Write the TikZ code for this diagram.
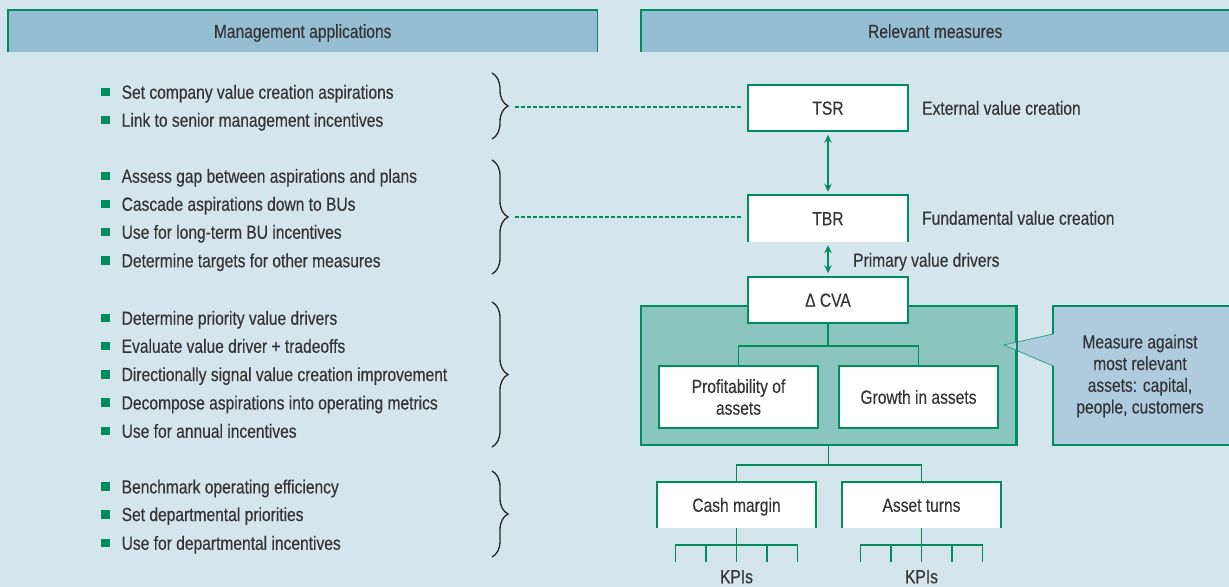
\documentclass[tikz,border=0pt]{standalone}
\usepackage{fontspec}
\setmainfont{Liberation Sans}[FakeStretch=0.82,FakeBold=0.3]
\usetikzlibrary{arrows.meta,decorations.pathreplacing}
\definecolor{bg}{RGB}{213,229,237}
\definecolor{hdr}{RGB}{149,190,210}
\definecolor{grn}{RGB}{0,140,92}
\definecolor{tealfill}{RGB}{139,197,192}
\definecolor{callfill}{RGB}{174,204,222}
\definecolor{ink}{RGB}{52,52,52}

\begin{document}
\begin{tikzpicture}[x=1bp,y=-1bp,
  every node/.style={font=\fontsize{19bp}{21.7bp}\selectfont, text=ink},
  txt/.style={inner sep=0pt, text height=13.5bp, text depth=0bp},
  item/.style={txt, anchor=west},
  bullet/.style={fill=grn, minimum size=8.5bp, inner sep=0pt},
  wbox/.style={fill=white, inner sep=0pt, text height=13.5bp, text depth=0bp},
  mbox/.style={fill=white, inner sep=0pt, align=center},
  edge/.style={draw=grn, line width=1.6bp},
  link/.style={draw=grn, line width=1.6bp},
  dbl/.style={draw=grn, line width=2bp, {Stealth[length=8bp,width=7.5bp]}-{Stealth[length=8bp,width=7.5bp]}, shorten <=3bp, shorten >=3bp},
  dotline/.style={draw=grn, line width=2bp, dash pattern=on 3.5bp off 2.5bp},
  curly/.style={draw=black!85, line width=1.3bp, decorate, decoration={brace, mirror, amplitude=16bp}},
]
\useasboundingbox (0,0) rectangle (1229,587);
\fill[bg] (0,0) rectangle (1229,587);

% column headers
\node[fill=hdr, txt, minimum width=589bp, minimum height=42bp, anchor=north west] (hl) at (8,10) {Management applications};
\draw[edge] (hl.south west) -- (hl.north west) -- (hl.north east) -- (hl.south east);
\node[fill=hdr, txt, minimum width=588bp, minimum height=42bp, anchor=north west] (hr) at (641,10) {Relevant measures};
\draw[edge] (hr.south west) -- (hr.north west) -- (hr.north east);

% bullet lists
\foreach \y/\t [count=\i] in {
  92/Set company value creation aspirations,
  120/Link to senior management incentives,
  176/Assess gap between aspirations and plans,
  204/Cascade aspirations down to BUs,
  232/Use for long-term BU incentives,
  260.5/Determine targets for other measures,
  318/Determine priority value drivers,
  346/Evaluate value driver + tradeoffs,
  374.3/Directionally signal value creation improvement,
  402.7/Decompose aspirations into operating metrics,
  431/Use for annual incentives,
  486.7/Benchmark operating efficiency,
  514.3/Set departmental priorities,
  543/Use for departmental incentives}{
  \node[bullet] (bul\i) at (105.5,\y) {};
  \node[item] (item\i) at (121.5,\y) {\t};
}

% braces grouping the lists
\draw[curly] (492,139) -- (492,73);
\draw[curly] (492,274) -- (492,160);
\draw[curly] (492,447) -- (492,302);
\draw[curly] (492,557) -- (492,471);

% measures column
\node[wbox, draw=grn, line width=1.6bp, minimum width=160bp, minimum height=46bp] (tsr) at (828,108) {TSR};
\node[wbox, minimum width=160bp, minimum height=47bp] (tbr) at (828,218.5) {TBR};
\draw[edge] (tbr.south west) -- (tbr.north west) -- (tbr.north east) -- (tbr.south east);
\node[item] (ext) at (922,108) {External value creation};
\node[item] (fund) at (922,218) {Fundamental value creation};
\node[item] (prim) at (853,260) {Primary value drivers};

% dotted links from braces
\coordinate (tip1) at (515,107);
\coordinate (tip2) at (515,217);
\draw[dotline, shorten >=6bp] (tip1) -- (tip1 -| tsr.west);
\draw[dotline, shorten >=6bp] (tip2) -- (tip2 -| tbr.west);

% value-driver group
\node[fill=tealfill, draw=grn, line width=1.6bp, minimum width=375bp, minimum height=139bp, inner sep=0pt] (grp) at (828.5,375.5) {};
\node[wbox, draw=grn, line width=1.6bp, minimum width=160bp, minimum height=46bp] (cva) at (828,300) {Δ CVA};
\node[mbox, draw=grn, line width=1.6bp, minimum width=159bp, minimum height=62bp] (prof) at (738.5,397) {Profitability of\\assets};
\node[wbox, draw=grn, line width=1.6bp, minimum width=159bp, minimum height=62bp] (growth) at (918.5,397) {Growth in assets};

\draw[dbl] (tsr.south) -- (tbr.north);
\draw[dbl] (tbr.south) -- (cva.north);

\draw[link] (cva.south) -- ++(0,22) -| (prof.north);
\draw[link] (cva.south) -- ++(0,22) -| (growth.north);

% callout
\node[fill=callfill, minimum width=180bp, minimum height=139bp, inner sep=0pt, anchor=west] (call) at (1053,375.5) {};
\coordinate (ptip) at (1004,345);
\coordinate (pa) at (1053,334);
\coordinate (pb) at (1053,366);
\fill[callfill] (pa) -- (ptip) -- (pb) -- cycle;
\draw[grn!60!tealfill, line width=0.8bp] (pa) -- (ptip) -- (pb);
\draw[edge] (grp.north east) -- (grp.south east);
\draw[edge] (call.north east) -- (call.north west) -- (pa);
\draw[edge] (pb) -- (call.south west) -- (call.south east);
\node[mbox, fill=none] (calltxt) at (1140,376) {Measure against\\most relevant\\assets: capital,\\people, customers};

% operating metrics
\node[wbox, minimum width=159bp, minimum height=46bp] (cash) at (736.5,505) {Cash margin};
\draw[edge] (cash.south west) -- (cash.north west) -- (cash.north east) -- (cash.south east);
\node[wbox, minimum width=159bp, minimum height=46bp] (turns) at (921.5,505) {Asset turns};
\draw[edge] (turns.south west) -- (turns.north west) -- (turns.north east) -- (turns.south east);
\draw[link] (grp.south) -- ++(0,19) -| (cash.north);
\draw[link] (grp.south) -- ++(0,19) -| (turns.north);

% KPI rakes
\draw[link] (cash.south) -- ++(0,17) coordinate (k1);
\draw[link] (turns.south) -- ++(0,17) coordinate (k2);
\draw[link, line cap=rect] ([xshift=-61bp]k1) -- ([xshift=61bp]k1);
\draw[link, line cap=rect] ([xshift=-61bp]k2) -- ([xshift=61bp]k2);
\foreach \dx in {-61,-30.5,0,30.5,61}{
  \draw[link] ([xshift=\dx bp]k1) -- ++(0,17);
  \draw[link] ([xshift=\dx bp]k2) -- ++(0,17);
}
\node[txt] (kpi1) at (736.5,576.5) {KPIs};
\node[txt] (kpi2) at (921.5,576.5) {KPIs};
\end{tikzpicture}
\end{document}
